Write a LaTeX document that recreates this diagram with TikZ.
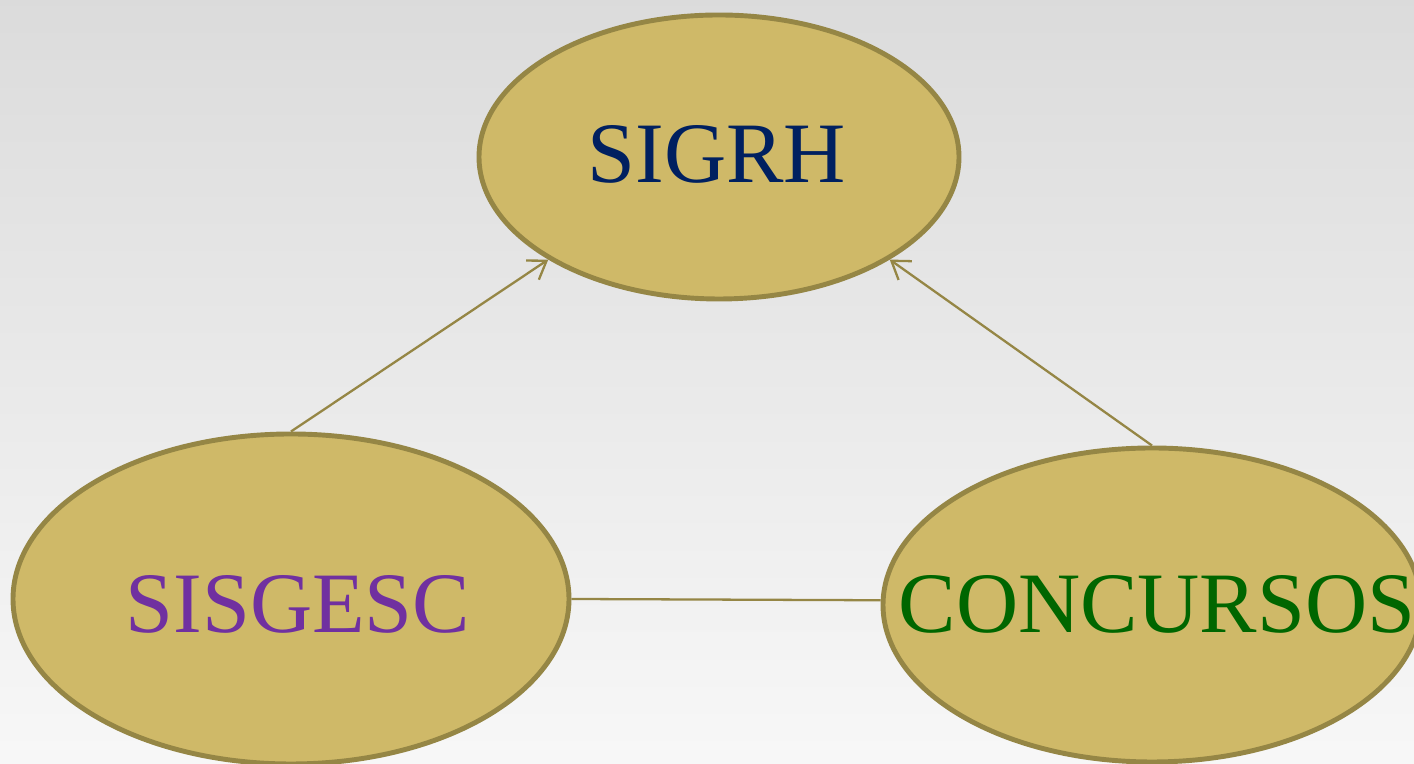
\documentclass[tikz,border=0pt]{standalone}
\usepackage{fontspec}
\setmainfont{Liberation Serif}
\usetikzlibrary{shapes.geometric, arrows.meta}

\definecolor{sysfill}{HTML}{CFB968}
\definecolor{sysline}{HTML}{958645}
\definecolor{sigrhblue}{HTML}{002060}
\definecolor{sisgescpurple}{HTML}{7030A0}
\definecolor{concgreen}{HTML}{006600}

\begin{document}
\begin{tikzpicture}[
    sysnode/.style={ellipse, draw=sysline, fill=sysfill, line width=2.8pt, inner sep=0pt},
    syslabel/.style={inner sep=0pt, font=\fontsize{49}{51}\selectfont},
    link/.style={draw=sysline, line width=1.3pt},
    uplink/.style={link, -{Straight Barb[length=3.4mm, width=4.6mm]}}
  ]
    % Background with a soft vertical gradient
    \useasboundingbox (0,0) rectangle (28.28,15.28);
    \clip (0,0) rectangle (28.28,15.28);
    \shade[top color=black!14, bottom color=black!3] (0,0) rectangle (28.28,15.28);

    % The three systems
    \node[sysnode, minimum width=9.6cm, minimum height=5.68cm] (sigrh) at (14.38,12.14) {};
    \node[sysnode, minimum width=11.12cm, minimum height=6.6cm] (sisgesc) at (5.82,3.3) {};
    \node[sysnode, minimum width=10.76cm, minimum height=6.28cm] (concursos) at (23.04,3.18) {};

    % Names of the systems
    \node[syslabel, text=sigrhblue] (sigrhname) at (14.34,12.2) {SIGRH};
    \node[syslabel, text=sisgescpurple] (sisgescname) at (5.96,3.2) {SISGESC};
    \node[syslabel, text=concgreen] (concursosname) at (23.14,3.2) {CONCURSOS};

    % Connections
    \draw[uplink] (sisgesc.north) -- (sigrh.211);
    \draw[uplink] (concursos.north) -- (sigrh.329);
    \draw[link] (sisgesc.east) -- (concursos.179);
\end{tikzpicture}
\end{document}
